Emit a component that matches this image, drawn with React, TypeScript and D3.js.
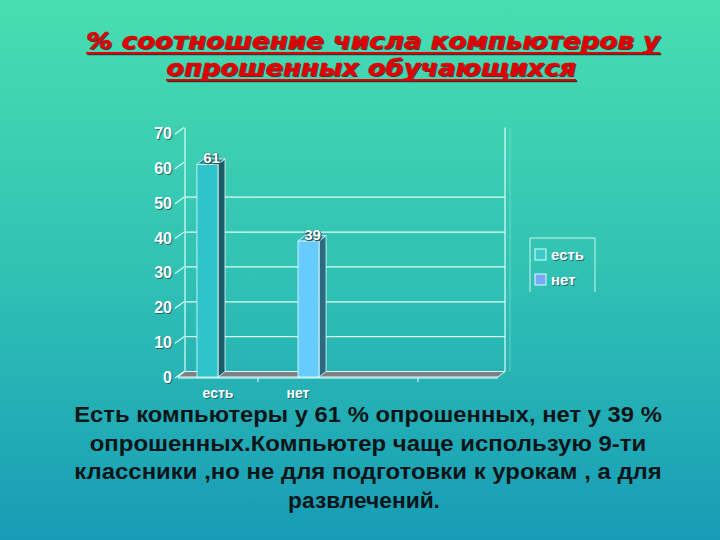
import React, { useLayoutEffect, useRef, useState } from "react";
import * as d3 from "d3";

// chart values
const categories = ["есть", "нет"];
const seriesNames = ["есть", "нет"];
const seriesValues = [61, 39];
const slotCount = 4; // the floor is drawn for four category slots, only two are used
const yMax = 70;

const titleLines = ["% соотношение числа компьютеров у", "опрошенных обучающихся"];
const noteLines = [
  "Есть компьютеры у 61 % опрошенных, нет у 39 %",
  "опрошенных.Компьютер чаще использую 9-ти",
  "классники ,но не для подготовки к урокам , а для",
  "развлечений.",
];

const W = 720;
const H = 540;
const DX = 7;
const DY = -5.5;

const frontColors = ["#2fc4cc", "#66ccff"];
const sideColors = ["#1c5c66", "#2c6a80"];
const topColors = ["#23888f", "#4aa0c8"];
const legendColors = ["#3cc9c9", "#78a8f6"];

// text squeezed / stretched to a given width by scaling the glyphs, not the spacing
function FitText({ text, cx, y, width, ...rest }: any) {
  const ref = useRef<SVGTextElement>(null);
  const [sx, setSx] = useState(1);
  useLayoutEffect(() => {
    if (ref.current) {
      const len = ref.current.getComputedTextLength();
      if (len > 0) setSx(width / len);
    }
  }, [text, width]);
  return (
    <text ref={ref} transform={`translate(${cx},${y}) scale(${sx},1)`} textAnchor="middle" {...rest}>
      {text}
    </text>
  );
}

function App() {
  const y = d3.scaleLinear().domain([0, yMax]).range([377, 133]);
  const x = d3.scaleBand<number>().domain(d3.range(slotCount)).range([178, 498]).paddingInner(0).paddingOuter(0);
  const inner = d3
    .scaleBand<string>()
    .domain(seriesNames)
    .range([0, x.bandwidth()])
    .paddingInner(0)
    .paddingOuter(0.9);

  const yTicks = y.ticks(7);
  const grid = yTicks.filter((t) => t > 0 && t < 60);
  const [x0, x1] = x.range();
  const y0 = y(0);
  const yTop = y(yMax);

  const bars = seriesNames.map((s, i) => {
    const bx = (x(i) as number) + (inner(s) as number);
    return { name: s, value: seriesValues[i], bx, bw: inner.bandwidth(), by: y(seriesValues[i]), i };
  });

  const shadow = (t: string, props: any, key: string) => (
    <g key={key}>
      <text {...props} x={props.x + 1} y={props.y + 1} fill="#15484f" fillOpacity={0.75}>
        {t}
      </text>
      <text {...props} fill="#ffffff">
        {t}
      </text>
    </g>
  );

  return (
    <svg width={W} height={H} style={{ position: "absolute", left: 0, top: 0 }}>
      <defs>
        <linearGradient id="bg" x1="0" y1="0" x2="0" y2="1">
          <stop offset="0" stopColor="#48deb0" />
          <stop offset="0.5" stopColor="#31c2b4" />
          <stop offset="1" stopColor="#179cb6" />
        </linearGradient>
      </defs>
      <rect width={W} height={H} fill="url(#bg)" />

      {/* title */}
      {titleLines.map((t, i) => {
        const cx = i === 0 ? 373 : 371;
        const len = i === 0 ? 574 : 410;
        const by = 49 + i * 27;
        return (
          <g key={"t" + i} fontFamily="DejaVu Sans" fontWeight="bold" fontStyle="italic" fontSize={23}>
            <FitText text={t} cx={cx + 1.2} y={by + 1.2} width={len} fill="#353535" />
            <rect x={cx - len / 2 + 1.2} y={by + 4.2} width={len} height={2} fill="#353535" />
            <FitText text={t} cx={cx} y={by} width={len} fill="#e00000" stroke="#e00000" strokeWidth={0.4} />
            <rect x={cx - len / 2} y={by + 3} width={len} height={2} fill="#e00000" />
          </g>
        );
      })}

      {/* back wall */}
      <g stroke="#d8fff4" strokeWidth={1.2} fill="none">
        {grid.map((t) => (
          <line key={"g" + t} x1={x0 + DX} x2={x1 + DX} y1={y(t) + DY} y2={y(t) + DY} />
        ))}
        <line x1={x0 + DX} x2={x0 + DX} y1={yTop + DY} y2={y0 + DY} />
        <line x1={x1 + DX} x2={x1 + DX} y1={yTop + DY} y2={y0 + DY} />
        <line x1={x1 + DX + 5} x2={x1 + DX + 5} y1={yTop + DY} y2={y0 + DY} stroke="#8fe6d6" strokeOpacity={0.5} />
        {yTicks.map((t) => (
          <line key={"c" + t} x1={x0 - 3} y1={y(t) + 1} x2={x0 + DX - 1} y2={y(t) + DY} />
        ))}
      </g>

      {/* floor */}
      <polygon
        points={`${x0},${y0} ${x1},${y0} ${x1 + DX},${y0 + DY} ${x0 + DX},${y0 + DY}`}
        fill="#7d8088"
        stroke="#dffcf6"
        strokeWidth={1}
      />
      <line x1={x0} x2={x1} y1={y0 + 1} y2={y0 + 1} stroke="#e8fffa" strokeWidth={1.2} />
      {[1, 3].map((k) => (
        <line key={"k" + k} x1={x0 + k * x.step()} x2={x0 + k * x.step()} y1={y0 + 1} y2={y0 + 5} stroke="#e8fffa" />
      ))}

      {/* bars */}
      {bars.map((b) => (
        <g key={b.name} stroke="#e6fffb" strokeWidth={0.8}>
          <polygon
            points={`${b.bx + b.bw},${b.by} ${b.bx + b.bw + DX},${b.by + DY} ${b.bx + b.bw + DX},${y0 + DY} ${b.bx + b.bw},${y0}`}
            fill={sideColors[b.i]}
          />
          <polygon
            points={`${b.bx},${b.by} ${b.bx + DX},${b.by + DY} ${b.bx + b.bw + DX},${b.by + DY} ${b.bx + b.bw},${b.by}`}
            fill={topColors[b.i]}
          />
          <rect x={b.bx} y={b.by} width={b.bw} height={y0 - b.by} fill={frontColors[b.i]} />
        </g>
      ))}

      {/* value labels */}
      <g fontFamily="Liberation Sans" fontWeight="bold" fontSize={15}>
        {bars.map((b) =>
          shadow(String(b.value), { x: b.bx + b.bw / 2 + 4, y: b.by - 1, textAnchor: "middle", stroke: "#1f4f55", strokeWidth: 0.6, paintOrder: "stroke" }, "v" + b.name)
        )}
      </g>

      {/* y axis labels */}
      <g fontFamily="Liberation Sans" fontWeight="bold" fontSize={16}>
        {yTicks.map((t) => shadow(String(t), { x: 172, y: y(t) + 6, textAnchor: "end" }, "y" + t))}
      </g>

      {/* category labels */}
      <g fontFamily="Liberation Sans" fontWeight="bold" fontSize={14}>
        {categories.map((c, i) =>
          shadow(c, { x: (x(i) as number) + x.bandwidth() / 2, y: 398, textAnchor: "middle" }, "x" + i)
        )}
      </g>

      {/* legend */}
      <path d="M530,292 V238 H595 V292" fill="none" stroke="#c8f7ee" strokeWidth={1} />
      {seriesNames.map((s, i) => (
        <g key={"l" + s}>
          <rect x={535} y={249 + i * 25} width={11} height={11} fill={legendColors[i]} stroke="#d8fff8" strokeWidth={1} />
          {shadow(s, { x: 551, y: 260 + i * 25, fontFamily: "Liberation Sans", fontWeight: "bold", fontSize: 15 }, "lt" + i)}
        </g>
      ))}

      {/* note under the chart */}
      <g fontFamily="Liberation Sans" fontWeight="bold" fontSize={22.5} fill="#0a1519">
        {noteLines.map((t, i) => {
          const lens = [588, 557, 588, 152];
          const cxs = [368, 368, 368, 364];
          return <FitText key={"n" + i} text={t} cx={cxs[i]} y={422 + i * 28.5} width={lens[i]} />;
        })}
      </g>
    </svg>
  );
}

export default App;
